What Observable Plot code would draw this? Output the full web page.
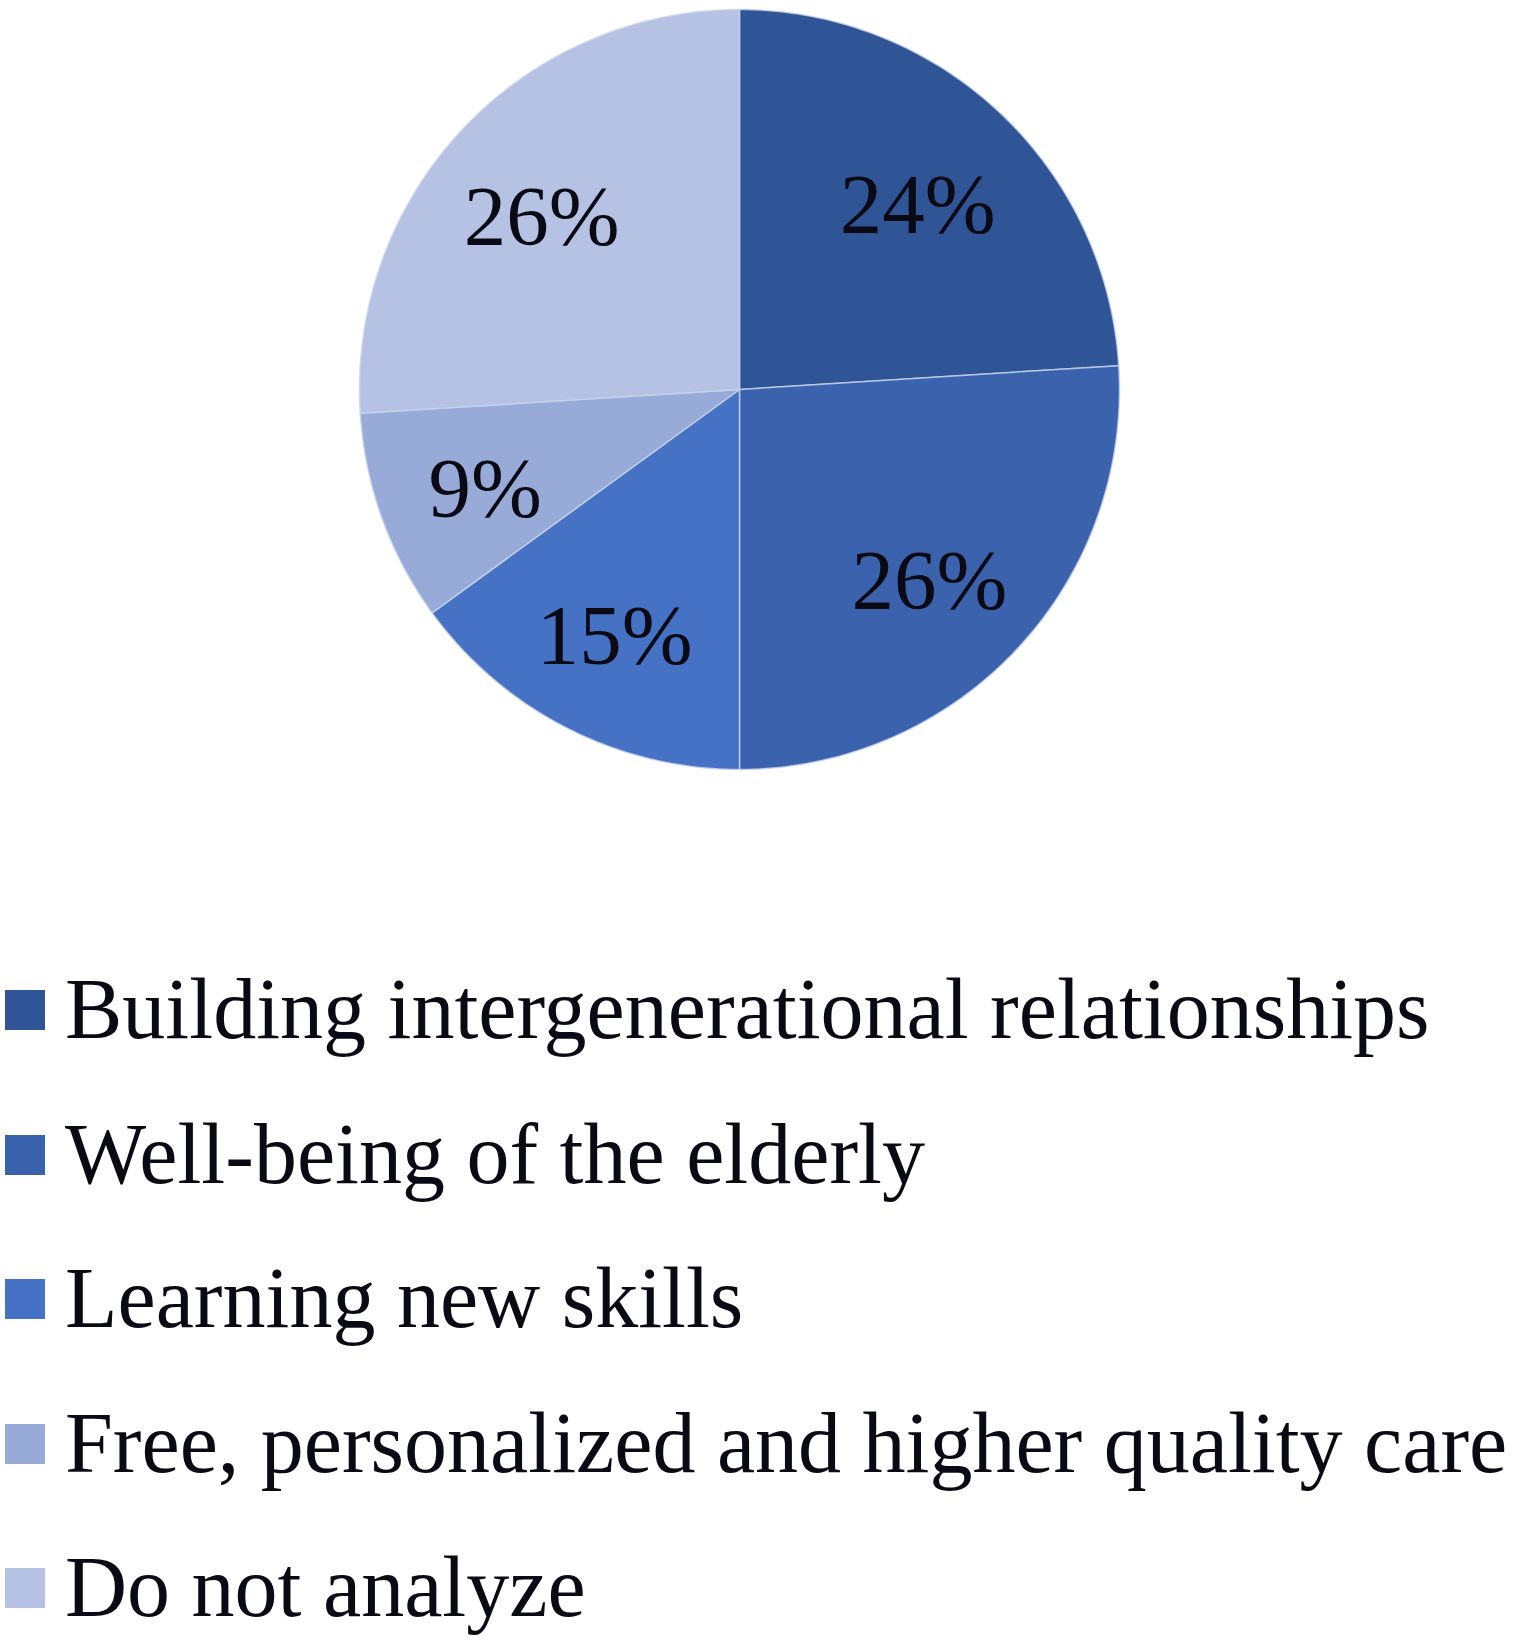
<!DOCTYPE html>
<html>
<head>
<meta charset="utf-8">
<script src="https://cdn.jsdelivr.net/npm/d3@7"></script>
<script src="https://cdn.jsdelivr.net/npm/@observablehq/plot@0.6"></script>
<style>
  html, body { margin: 0; padding: 0; background: #fff; }
  #chart svg { display: block; }
  #legend { position: relative; padding-top: 137px; font-family: "Liberation Serif", "Times New Roman", serif; }
  .row { position: relative; height: 144.5px; line-height: 144.5px; font-size: 86px; color: #0a0a14; white-space: nowrap; }
  .sw { position: absolute; left: 5px; top: 53px; width: 40px; height: 40px; }
  .lbl { position: absolute; left: 65px; top: 0; }
</style>
</head>
<body>
<div id="chart"></div>
<div id="legend"></div>
<script>
const categories = [
  "Building intergenerational relationships",
  "Well-being of the elderly",
  "Learning new skills",
  "Free, personalized and higher quality care",
  "Do not analyze"
];
const values = [24, 26, 15, 9, 26];
const labels = ["24%", "26%", "15%", "9%", "26%"];
const colors = ["#2f5597", "#3b63ad", "#4572c4", "#98aad8", "#b5c2e4"];

const total = d3.sum(values);
// build slice polygons (angles clockwise from 12 o'clock)
const slicePts = [];
const labelPts = [];
let acc = 0;
categories.forEach((cat, i) => {
  const a0 = acc / total * 2 * Math.PI;
  acc += values[i];
  const a1 = acc / total * 2 * Math.PI;
  slicePts.push({cat, x: 0, y: 0});
  const n = Math.max(8, Math.ceil((a1 - a0) / (Math.PI / 180)));
  for (let k = 0; k <= n; k++) {
    const a = a0 + (a1 - a0) * k / n;
    slicePts.push({cat, x: Math.sin(a), y: Math.cos(a)});
  }
  slicePts.push({cat, x: 0, y: 0});
  const am = (a0 + a1) / 2;
  labelPts.push({cat, label: labels[i], x: 0.7 * Math.sin(am), y: 0.7 * Math.cos(am)});
});

const chart = Plot.plot({
  width: 1517,
  height: 800,
  x: {domain: [-1, 1], range: [359, 1119], axis: null},
  y: {domain: [-1, 1], range: [769, 9], axis: null},
  color: {domain: categories, range: colors},
  marks: [
    Plot.line(slicePts, {x: "x", y: "y", z: "cat", fill: "cat", stroke: "#c8d3ee", strokeWidth: 1.5, strokeOpacity: 0.8, curve: "linear"}),
    Plot.text(labelPts, {x: "x", y: "y", text: "label", fontSize: 85, fontFamily: "Liberation Serif", fill: "#0a0a14", lineAnchor: "middle", textAnchor: "middle", dx: -4, dy: 10})
  ]
});
document.getElementById("chart").appendChild(chart);

const legend = document.getElementById("legend");
categories.forEach((cat, i) => {
  const row = document.createElement("div");
  row.className = "row";
  const sw = document.createElement("span");
  sw.className = "sw";
  sw.style.background = colors[i];
  const lb = document.createElement("span");
  lb.className = "lbl";
  lb.textContent = cat;
  row.appendChild(sw);
  row.appendChild(lb);
  legend.appendChild(row);
});
</script>
</body>
</html>
